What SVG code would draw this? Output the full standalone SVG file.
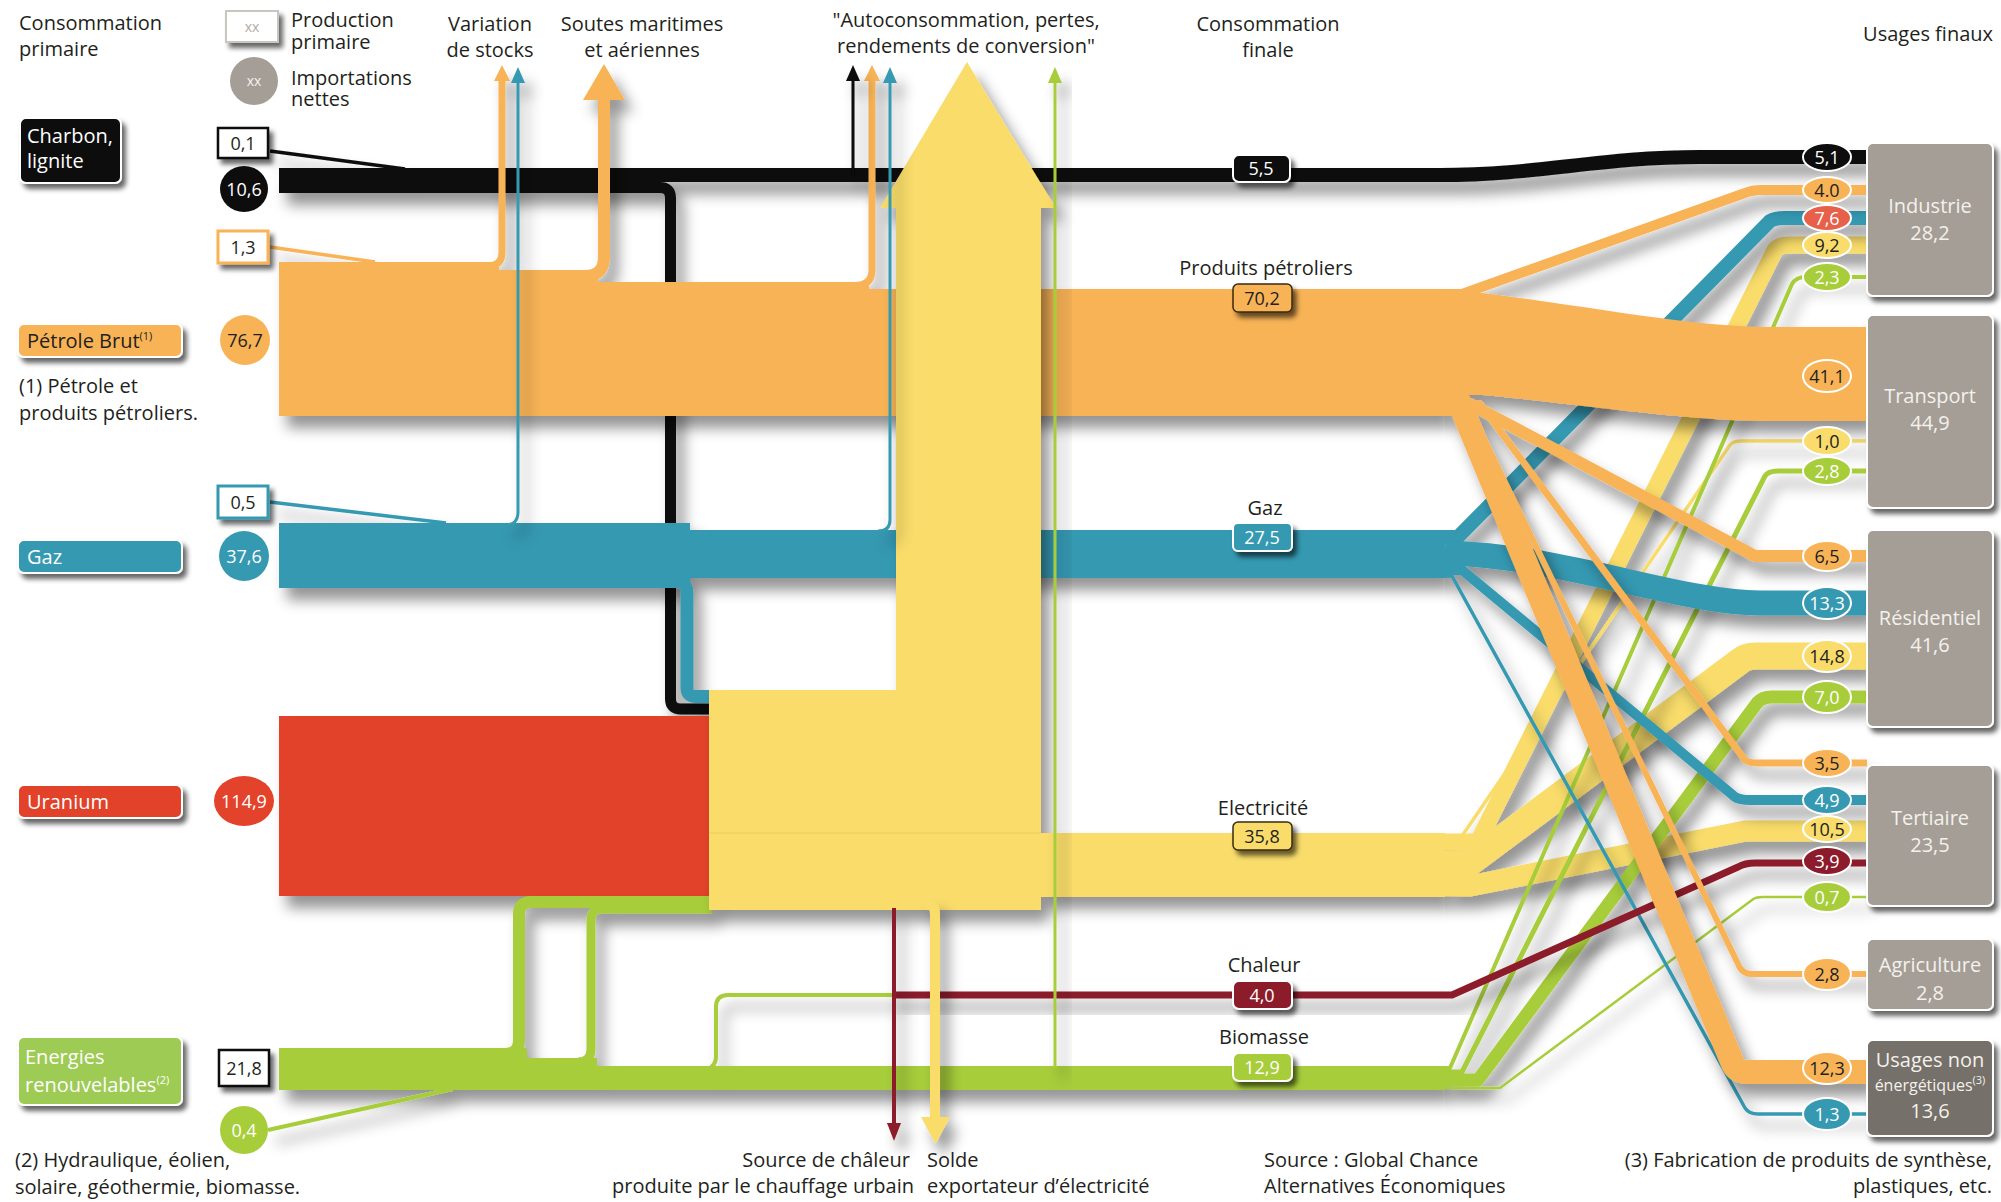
<svg xmlns="http://www.w3.org/2000/svg" width="2001" height="1202" viewBox="0 0 2001 1202">
<defs>
<style>
text { font-family: "Open Sans", "Liberation Sans", sans-serif; font-size: 20px; fill: #231f20; }
.c { text-anchor: middle; }
.e { text-anchor: end; }
.w { fill: #ffffff; }
.lw { fill: #f4f1ec; }
.v { font-size: 18px; }
.sup { font-size: 11px; }
.s { fill: none; stroke-linejoin: round; stroke-linecap: butt; }
.k { stroke: #0d0d0d; } .kf { fill: #0d0d0d; }
.o { stroke: #f8b357; } .of { fill: #f8b357; }
.t { stroke: #3699b2; } .tf { fill: #3699b2; }
.y { stroke: #f9dc6b; } .yf { fill: #f9dc6b; }
.g { stroke: #a7cd3b; } .gf { fill: #a7cd3b; }
.h { stroke: #8c1b2c; } .hf { fill: #8c1b2c; }
.uf { fill: #e2432a; }
.node { fill: #a49e96; stroke: #fff; stroke-width: 2; }
.node2 { fill: #756f69; stroke: #fff; stroke-width: 2; }
.lbl { stroke: #fff; stroke-width: 2; }
.bdg { stroke: #fff; stroke-width: 2; }
</style>
<filter id="sh" x="-5%" y="-5%" width="115%" height="120%">
  <feDropShadow dx="8" dy="12" stdDeviation="7" flood-color="#000" flood-opacity="0.42"/>
</filter>
<!-- same shadow, kept to the right of the fan-out point -->
<filter id="shr" filterUnits="userSpaceOnUse" x="1445" y="0" width="556" height="1202">
  <feDropShadow dx="8" dy="12" stdDeviation="7" flood-color="#000" flood-opacity="0.42"/>
</filter>
<filter id="lb" x="-20%" y="-20%" width="150%" height="160%">
  <feDropShadow dx="4" dy="5" stdDeviation="2.5" flood-color="#000" flood-opacity="0.6"/>
</filter>
<marker id="ah-k" viewBox="0 0 16 14" refX="1" refY="7" markerWidth="16" markerHeight="14" markerUnits="userSpaceOnUse" orient="auto"><path d="M0,0 L16,7 L0,14 Z" fill="#0d0d0d"/></marker>
<marker id="ah-o" viewBox="0 0 16 16" refX="1" refY="8" markerWidth="16" markerHeight="16" markerUnits="userSpaceOnUse" orient="auto"><path d="M0,0 L16,8 L0,16 Z" fill="#f8b357"/></marker>
<marker id="ah-t" viewBox="0 0 16 14" refX="1" refY="7" markerWidth="16" markerHeight="14" markerUnits="userSpaceOnUse" orient="auto"><path d="M0,0 L16,7 L0,14 Z" fill="#3699b2"/></marker>
<marker id="ah-g" viewBox="0 0 16 14" refX="1" refY="7" markerWidth="16" markerHeight="14" markerUnits="userSpaceOnUse" orient="auto"><path d="M0,0 L16,7 L0,14 Z" fill="#a7cd3b"/></marker>
<marker id="ah-h" viewBox="0 0 18 14" refX="1" refY="7" markerWidth="18" markerHeight="14" markerUnits="userSpaceOnUse" orient="auto"><path d="M0,0 L18,7 L0,14 Z" fill="#8c1b2c"/></marker>
</defs>

<rect width="2001" height="1202" fill="#ffffff"/>

<!-- column headers -->
<g id="headers">
  <text x="19" y="30">Consommation</text>
  <text x="19" y="56">primaire</text>
  <text class="c" x="490" y="31">Variation</text>
  <text class="c" x="490" y="57">de stocks</text>
  <text class="c" x="642" y="31">Soutes maritimes</text>
  <text class="c" x="642" y="57">et aériennes</text>
  <text class="c" x="966" y="27">"Autoconsommation, pertes,</text>
  <text class="c" x="966" y="53">rendements de conversion"</text>
  <text class="c" x="1268" y="31">Consommation</text>
  <text class="c" x="1268" y="57">finale</text>
  <text class="e" x="1993" y="41">Usages finaux</text>
</g>

<!-- legend -->
<g id="legend">
  <rect x="226" y="11" width="52" height="31" fill="#fff" stroke="#c9c6c2" stroke-width="2" filter="url(#lb)"/>
  <text class="c" x="252" y="32" style="font-size:14px;fill:#b0aca6">xx</text>
  <text x="291" y="27">Production</text>
  <text x="291" y="49">primaire</text>
  <circle cx="254" cy="81" r="24" fill="#a49e96"/>
  <text class="c lw" x="254" y="86" style="font-size:14px">xx</text>
  <text x="291" y="85">Importations</text>
  <text x="291" y="106">nettes</text>
</g>

<!-- energy flows -->
<g id="connectors">
  <!-- coal -->
  <g id="flow-coal" filter="url(#sh)">
    <path class="s k" d="M279,187.5 H660 Q670.5,187.5 670.5,198 V699 Q670.5,709 681,709 H712" stroke-width="11"/>
    <path class="s k" d="M279,175 H1440 C1540,175 1600,157 1700,157 H1867" stroke-width="14"/>
    <path class="s k" d="M270,151 L405,169" stroke-width="3.5"/>
  </g>

  <!-- crude oil and products, left part -->
  <g id="flow-oil" filter="url(#sh)">
    <polygon class="of" points="279,262 499,262 499,270 598,270 598,282 869,282 869,289 1445,289 1445,416 279,416"/>
    <path class="s o" d="M270,247 L375,262" stroke-width="3.5"/>
    <path class="s o" d="M488,266 Q502,266 502,252 V80" stroke-width="7" marker-end="url(#ah-o)"/>
    <path class="s o" d="M585,276 Q604,276 604,257 V98" stroke-width="12"/>
    <polygon class="of" points="583,100 625,100 604,64"/>
    <path class="s o" d="M855,285.5 Q872,285.5 872,270 V80" stroke-width="7" marker-end="url(#ah-o)"/>
  </g>

  <!-- gas, left part -->
  <g id="flow-gas" filter="url(#sh)">
    <rect class="tf" x="279" y="523" width="411" height="65"/>
    <rect class="tf" x="689" y="530" width="756" height="48"/>
    <path class="s t" d="M600,581.5 H676 Q687,581.5 687,593 V688 Q687,696.5 696,696.5 H712" stroke-width="13"/>
    <path class="s t" d="M270,502 L446,523" stroke-width="3.5"/>
  </g>

  <!-- uranium -->
  <g id="flow-uranium" filter="url(#sh)">
    <rect class="uf" x="279" y="716" width="433" height="180"/>
  </g>

  <!-- renewables / biomass, left part -->
  <g id="flow-renew" filter="url(#sh)">
    <polygon class="gf" points="279,1048 527,1048 527,1058 597,1058 597,1066 1445,1066 1445,1090 279,1090"/>
    <path class="s g" d="M505,1054 Q519,1054 519,1040 V914 Q519,902 531,902 H712" stroke-width="12"/>
    <path class="s g" d="M578,1062 Q591,1062 591,1049 V920 Q591,909 602,909 H712" stroke-width="9"/>
    <path class="s g" d="M700,1070 Q716,1070 716,1056 V1007 Q716,995 728,995 H896" stroke-width="4"/>
    <path class="s g" d="M268,1130 L452,1089" stroke-width="4"/>
  </g>

  <!-- electricity: losses arrow, power plants block, outgoing band -->
  <g id="flow-elec" filter="url(#sh)">
    <polygon class="yf" points="967,62 1056,208 1041,208 1041,833 1445,833 1445,897 1041,897 1041,910 709,910 709,690 896,690 896,208 880,208"/>
  </g>
  <line x1="709" y1="833" x2="1041" y2="833" stroke="#e8c758" stroke-width="1.2" opacity="0.7"/>

  <!-- thin outgoing arrows -->
  <g id="flow-thin" filter="url(#sh)">
    <path class="s t" d="M505,525 Q518,525 518,512 V82" stroke-width="3" marker-end="url(#ah-t)"/>
    <path class="s k" d="M853,176 V80" stroke-width="3" marker-end="url(#ah-k)"/>
    <path class="s t" d="M878,531 Q890,531 890,520 V82" stroke-width="3" marker-end="url(#ah-t)"/>
  </g>

  <!-- fan towards end uses -->
  <g id="fan-elec" filter="url(#shr)">
    <path class="s y" d="M1445,842 H1478 L1775,250 Q1779,245 1789,245 H1867" stroke-width="17"/>
    <path class="s y" d="M1445,836 H1462 L1730,445 Q1733,441 1742,441 H1867" stroke-width="3.5"/>
    <path class="s y" d="M1445,864 H1468 L1740,661 Q1746,656 1756,656 H1867" stroke-width="27"/>
    <path class="s y" d="M1445,886 H1470 L1745,831 H1867" stroke-width="21"/>
  </g>
  <g id="fan-bio" filter="url(#shr)">
    <path class="s g" d="M1445,1068 H1450 L1792,284 Q1796,277 1806,277 H1867" stroke-width="4"/>
    <path class="s g" d="M1445,1072 H1462 L1765,476 Q1768,471 1778,471 H1867" stroke-width="5"/>
    <path class="s g" d="M1445,1080 H1478 L1757,703 Q1762,697 1772,697 H1867" stroke-width="13"/>
    <path class="s g" d="M1445,1088 H1500 L1752,900 Q1755,897 1763,897 H1867" stroke-width="2.5"/>
  </g>
  <g id="fan-gas" filter="url(#shr)">
    <path class="s t" d="M1445,537 H1458 L1770,221 Q1775,218 1785,218 H1867" stroke-width="14"/>
    <path class="s t" d="M1445,553 C1560,555 1680,603 1760,603 H1867" stroke-width="25"/>
    <path class="s t" d="M1445,570 H1462 L1735,797 Q1740,800 1750,800 H1867" stroke-width="10"/>
    <path class="s t" d="M1445,576 H1452 L1745,1108 Q1749,1114 1758,1114 H1867" stroke-width="3.5"/>
  </g>
  <g id="fan-heat" filter="url(#sh)">
    <path class="s h" d="M894,995 H1452 L1738,867 Q1745,863 1755,863 H1867" stroke-width="7"/>
  </g>
  <g id="fan-oil" filter="url(#shr)">
    <path class="s o" d="M1445,294 H1462 L1745,193 Q1752,190 1762,190 H1867" stroke-width="10"/>
    <path class="of" d="M1445,289 C1560,300 1680,327 1770,327 H1867 V421 H1760 C1680,420 1560,402 1483,395 H1445 Z"/>
    <path class="s o" d="M1445,404 H1470 L1755,556 H1867" stroke-width="12"/>
    <path class="s o" d="M1445,404 H1480 L1745,760 Q1749,763 1757,763 H1867" stroke-width="7"/>
    <path class="s o" d="M1445,410 H1470 L1740,968 Q1744,974 1752,974 H1867" stroke-width="6"/>
    <path class="s o" d="M1445,404 H1460 L1733,1064 Q1737,1072 1748,1072 H1867" stroke-width="24"/>
  </g>

  <!-- downward arrows and the green losses arrow -->
  <g id="flow-down" filter="url(#sh)">
    <path class="s h" d="M894,908 V1124" stroke-width="4" marker-end="url(#ah-h)"/>
    <path class="s y" d="M925,904 Q935,904 935,914 V1120" stroke-width="10"/>
    <polygon class="yf" points="921,1117 950,1117 935.5,1144"/>
    <path class="s g" d="M1055,1068 V82" stroke-width="3" marker-end="url(#ah-g)"/>
  </g>
</g>

<!-- primary energy sources -->
<g id="node-charbon">
  <rect x="20" y="118" width="101" height="65" rx="6" class="kf lbl" filter="url(#lb)"/>
  <text class="w" x="27" y="143">Charbon,</text>
  <text class="w" x="27" y="168">lignite</text>
  <rect x="218" y="128" width="50" height="30" fill="#fff" stroke="#0d0d0d" stroke-width="2.5" filter="url(#lb)"/>
  <text class="c v" x="243" y="150">0,1</text>
  <ellipse cx="244" cy="189" rx="24" ry="23" class="kf"/>
  <text class="c v w" x="244" y="196">10,6</text>
</g>
<g id="node-petrole">
  <rect x="18" y="324" width="164" height="33" rx="6" class="of lbl" filter="url(#lb)"/>
  <text x="27" y="348">Pétrole Brut<tspan class="sup" dy="-8">(1)</tspan></text>
  <rect x="218" y="231" width="50" height="32" fill="#fff" stroke="#f8b357" stroke-width="3" filter="url(#lb)"/>
  <text class="c v" x="243" y="254">1,3</text>
  <circle cx="245" cy="340" r="25" class="of"/>
  <text class="c v" x="245" y="347">76,7</text>
  <text x="19" y="393">(1) Pétrole et</text>
  <text x="19" y="420">produits pétroliers.</text>
</g>
<g id="node-gaz">
  <rect x="18" y="540" width="164" height="33" rx="6" class="tf lbl" filter="url(#lb)"/>
  <text class="w" x="27" y="564">Gaz</text>
  <rect x="218" y="486" width="50" height="32" fill="#fff" stroke="#3699b2" stroke-width="3" filter="url(#lb)"/>
  <text class="c v" x="243" y="509">0,5</text>
  <circle cx="244" cy="556" r="25" class="tf"/>
  <text class="c v w" x="244" y="563">37,6</text>
</g>
<g id="node-uranium">
  <rect x="18" y="785" width="164" height="33" rx="6" class="uf lbl" filter="url(#lb)"/>
  <text class="w" x="27" y="809">Uranium</text>
  <ellipse cx="244" cy="801" rx="30" ry="25" class="uf"/>
  <text class="c v w" x="244" y="808">114,9</text>
</g>
<g id="node-enr">
  <rect x="18" y="1037" width="164" height="68" rx="6" fill="#9dcb52" class="lbl" filter="url(#lb)"/>
  <text class="w" x="25" y="1064">Energies</text>
  <text class="w" x="25" y="1092">renouvelables<tspan class="sup" dy="-8">(2)</tspan></text>
  <rect x="219" y="1050" width="50" height="36" fill="#fff" stroke="#0d0d0d" stroke-width="2.5" filter="url(#lb)"/>
  <text class="c v" x="244" y="1075">21,8</text>
  <circle cx="244" cy="1130" r="24" class="gf"/>
  <text class="c v w" x="244" y="1137">0,4</text>
  <text x="15" y="1167">(2) Hydraulique, éolien,</text>
  <text x="15" y="1194">solaire, géothermie, biomasse.</text>
</g>

<!-- final consumption labels -->
<g id="label-charbon">
  <rect x="1233" y="155" width="57" height="27" rx="6" class="kf lbl" filter="url(#lb)"/>
  <text class="c v w" x="1261" y="175">5,5</text>
</g>
<g id="label-produits">
  <text class="c" x="1266" y="275">Produits pétroliers</text>
  <rect x="1233" y="284" width="59" height="28" rx="5" class="of" stroke="#3a2a10" stroke-width="1.5" filter="url(#lb)"/>
  <text class="c v" x="1262" y="305">70,2</text>
</g>
<g id="label-gaz">
  <text class="c" x="1265" y="515">Gaz</text>
  <rect x="1233" y="523" width="59" height="28" rx="5" class="tf lbl" filter="url(#lb)"/>
  <text class="c v w" x="1262" y="544">27,5</text>
</g>
<g id="label-elec">
  <text class="c" x="1263" y="815">Electricité</text>
  <rect x="1233" y="822" width="59" height="28" rx="5" class="yf" stroke="#3a2a10" stroke-width="1.5" filter="url(#lb)"/>
  <text class="c v" x="1262" y="843">35,8</text>
</g>
<g id="label-chaleur">
  <text class="c" x="1264" y="972">Chaleur</text>
  <rect x="1233" y="981" width="59" height="28" rx="6" class="hf lbl" filter="url(#lb)"/>
  <text class="c v w" x="1262" y="1002">4,0</text>
</g>
<g id="label-biomasse">
  <text class="c" x="1264" y="1044">Biomasse</text>
  <rect x="1233" y="1053" width="59" height="28" rx="6" class="gf lbl" filter="url(#lb)"/>
  <text class="c v w" x="1262" y="1074">12,9</text>
</g>

<!-- end uses -->
<g id="node-industrie">
  <rect x="1867" y="143" width="126" height="153" rx="6" class="node" filter="url(#lb)"/>
  <text class="c lw" x="1930" y="213">Industrie</text>
  <text class="c lw" x="1930" y="240">28,2</text>
  <ellipse cx="1827" cy="157" rx="24" ry="14" class="kf bdg"/><text class="c v w" x="1827" y="164">5,1</text>
  <ellipse cx="1827" cy="190" rx="24" ry="13" class="of bdg"/><text class="c v" x="1827" y="197">4.0</text>
  <ellipse cx="1827" cy="218" rx="24" ry="13" fill="#e6604a" class="bdg"/><text class="c v w" x="1827" y="225">7,6</text>
  <ellipse cx="1827" cy="245" rx="24" ry="13" class="yf bdg"/><text class="c v" x="1827" y="252">9,2</text>
  <ellipse cx="1827" cy="277" rx="24" ry="14" class="gf bdg"/><text class="c v w" x="1827" y="284">2,3</text>
</g>
<g id="node-transport">
  <rect x="1867" y="315" width="126" height="193" rx="6" class="node" filter="url(#lb)"/>
  <text class="c lw" x="1930" y="403">Transport</text>
  <text class="c lw" x="1930" y="430">44,9</text>
  <ellipse cx="1827" cy="376" rx="24" ry="16" class="of bdg"/><text class="c v" x="1827" y="383">41,1</text>
  <ellipse cx="1827" cy="441" rx="24" ry="14" class="yf bdg"/><text class="c v" x="1827" y="448">1,0</text>
  <ellipse cx="1827" cy="471" rx="24" ry="14" class="gf bdg"/><text class="c v w" x="1827" y="478">2,8</text>
</g>
<g id="node-residentiel">
  <rect x="1867" y="530" width="126" height="197" rx="6" class="node" filter="url(#lb)"/>
  <text class="c lw" x="1930" y="625">Résidentiel</text>
  <text class="c lw" x="1930" y="652">41,6</text>
  <ellipse cx="1827" cy="556" rx="24" ry="15" class="of bdg"/><text class="c v" x="1827" y="563">6,5</text>
  <ellipse cx="1827" cy="603" rx="24" ry="16" class="tf bdg"/><text class="c v w" x="1827" y="610">13,3</text>
  <ellipse cx="1827" cy="656" rx="24" ry="16" class="yf bdg"/><text class="c v" x="1827" y="663">14,8</text>
  <ellipse cx="1827" cy="697" rx="24" ry="16" class="gf bdg"/><text class="c v w" x="1827" y="704">7,0</text>
</g>
<g id="node-tertiaire">
  <rect x="1867" y="765" width="126" height="141" rx="6" class="node" filter="url(#lb)"/>
  <text class="c lw" x="1930" y="825">Tertiaire</text>
  <text class="c lw" x="1930" y="852">23,5</text>
  <ellipse cx="1827" cy="763" rx="24" ry="14" class="of bdg"/><text class="c v" x="1827" y="770">3,5</text>
  <ellipse cx="1827" cy="800" rx="24" ry="14" class="tf bdg"/><text class="c v w" x="1827" y="807">4,9</text>
  <ellipse cx="1827" cy="829" rx="24" ry="13" class="yf bdg"/><text class="c v" x="1827" y="836">10,5</text>
  <ellipse cx="1827" cy="861" rx="24" ry="14" class="hf bdg"/><text class="c v w" x="1827" y="868">3,9</text>
  <ellipse cx="1827" cy="897" rx="24" ry="15" class="gf bdg"/><text class="c v w" x="1827" y="904">0,7</text>
</g>
<g id="node-agriculture">
  <rect x="1867" y="939" width="126" height="71" rx="6" class="node" filter="url(#lb)"/>
  <text class="c lw" x="1930" y="972">Agriculture</text>
  <text class="c lw" x="1930" y="1000">2,8</text>
  <ellipse cx="1827" cy="974" rx="24" ry="16" class="of bdg"/><text class="c v" x="1827" y="981">2,8</text>
</g>
<g id="node-non-energetique">
  <rect x="1867" y="1040" width="126" height="96" rx="6" class="node2" filter="url(#lb)"/>
  <text class="c lw" x="1930" y="1067">Usages non</text>
  <text class="c lw" x="1930" y="1091" style="font-size:16px">énergétiques<tspan class="sup" dy="-7">(3)</tspan></text>
  <text class="c lw" x="1930" y="1118">13,6</text>
  <ellipse cx="1827" cy="1068" rx="24" ry="16" class="of bdg"/><text class="c v" x="1827" y="1075">12,3</text>
  <ellipse cx="1827" cy="1114" rx="24" ry="16" class="tf bdg"/><text class="c v w" x="1827" y="1121">1,3</text>
</g>

<!-- notes -->
<g id="notes">
  <text class="e" x="910" y="1167">Source de châleur</text>
  <text class="e" x="914" y="1193">produite par le chauffage urbain</text>
  <text x="927" y="1167">Solde</text>
  <text x="927" y="1193">exportateur d’électricité</text>
  <text x="1264" y="1167">Source : Global Chance</text>
  <text x="1264" y="1193">Alternatives Économiques</text>
  <text class="e" x="1992" y="1167">(3) Fabrication de produits de synthèse,</text>
  <text class="e" x="1992" y="1193">plastiques, etc.</text>
</g>
</svg>
